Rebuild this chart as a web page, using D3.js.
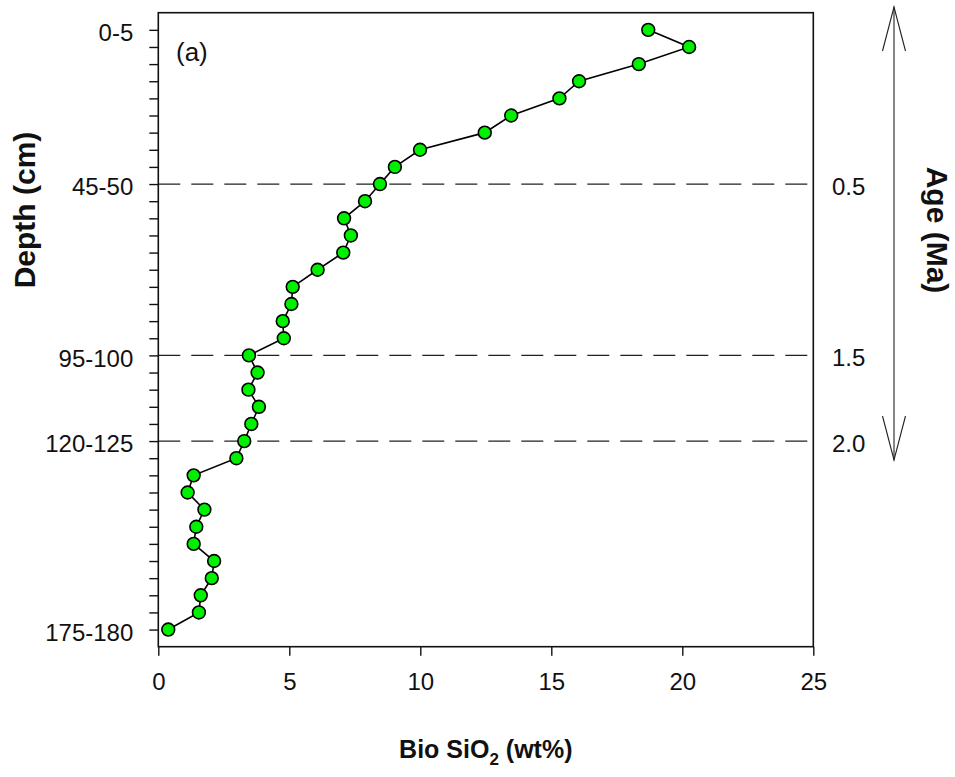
<!DOCTYPE html>
<html>
<head>
<meta charset="utf-8">
<script src="https://cdn.jsdelivr.net/npm/d3@7"></script>
<style>
  html, body { margin: 0; padding: 0; background: #fff; }
  svg { display: block; font-family: Arial, "Liberation Sans", sans-serif; }
</style>
</head>
<body>
<svg id="chart" width="955" height="777"></svg>
<script>
// Sample depth intervals (midpoint, cm) down the core
const sampleDepths = [2.5, 7.5, 12.5, 17.5, 22.5, 27.5, 32.5, 37.5, 42.5, 47.5,
  52.5, 57.5, 62.5, 67.5, 72.5, 77.5, 82.5, 87.5, 92.5, 97.5,
  102.5, 107.5, 112.5, 117.5, 122.5, 127.5, 132.5, 137.5, 142.5, 147.5,
  152.5, 157.5, 162.5, 167.5, 172.5, 177.5];

// Biogenic silica content (wt%) for each interval
const bioSiO2 = [18.70, 20.26, 18.34, 16.06, 15.31, 13.47, 12.46, 9.99, 9.03, 8.46,
  7.89, 7.09, 7.35, 7.06, 6.08, 5.13, 5.08, 4.75, 4.79, 3.46,
  3.79, 3.44, 3.84, 3.55, 3.28, 2.98, 1.35, 1.12, 1.76, 1.45,
  1.35, 2.13, 2.04, 1.62, 1.55, 0.38];

// Labelled depth intervals on the left axis
const depthTickDepths = [2.5, 47.5, 97.5, 122.5, 177.5];
const depthTickLabels = ["0-5", "45-50", "95-100", "120-125", "175-180"];

// Age horizons (Ma) marked by dashed lines
const ageDepths = [47.5, 97.5, 122.5];
const ageLabels = ["0.5", "1.5", "2.0"];

// Bottom axis ticks
const xTicks = [0, 5, 10, 15, 20, 25];

const svg = d3.select("#chart");
const plotL = 158.3, plotR = 813.3, plotT = 12.7, plotB = 646.7;

const x = d3.scaleLinear().domain([0, 25]).range([plotL, plotR]);
const y = d3.scaleLinear().domain([-2.5, 182.5]).range([plotT, plotB]);

const ink = "#111";

// Dashed age horizons
svg.append("g")
  .selectAll("line")
  .data(ageDepths)
  .join("line")
  .attr("x1", plotL).attr("x2", plotR)
  .attr("y1", d => y(d)).attr("y2", d => y(d))
  .attr("stroke", "#222")
  .attr("stroke-width", 1.3)
  .attr("stroke-dasharray", "22,11");

// Bottom axis
const xAxis = svg.append("g")
  .attr("transform", `translate(0,${plotB})`)
  .call(d3.axisBottom(x).tickValues(xTicks).tickSize(9).tickPadding(17).tickFormat(d3.format("d")));
xAxis.select(".domain").remove();
xAxis.selectAll(".tick line").attr("stroke", ink).attr("stroke-width", 1.4);
xAxis.selectAll("text").attr("font-size", 24).attr("fill", "#111")
  .attr("font-family", "Arial, 'Liberation Sans', sans-serif");

// Left axis: a tick at every sample interval, labels on selected ones
const labelFor = new Map(depthTickDepths.map((d, i) => [d, depthTickLabels[i]]));
const yAxis = svg.append("g")
  .attr("transform", `translate(${plotL},0)`)
  .call(d3.axisLeft(y).tickValues(sampleDepths).tickSize(9).tickPadding(16)
    .tickFormat(d => labelFor.get(d) || ""));
yAxis.select(".domain").remove();
yAxis.selectAll(".tick line").attr("stroke", ink).attr("stroke-width", 1.4);
yAxis.selectAll("text").attr("font-size", 24).attr("fill", "#111").attr("dy", "0.45em")
  .attr("font-family", "Arial, 'Liberation Sans', sans-serif");

// Plot frame
svg.append("rect")
  .attr("x", plotL).attr("y", plotT)
  .attr("width", plotR - plotL).attr("height", plotB - plotT)
  .attr("fill", "none").attr("stroke", ink).attr("stroke-width", 1.6);

// Age labels on the right
svg.append("g")
  .selectAll("text")
  .data(ageDepths)
  .join("text")
  .attr("x", 832)
  .attr("y", d => y(d))
  .attr("dy", "0.45em")
  .attr("font-size", 24)
  .attr("fill", "#111")
  .text((d, i) => ageLabels[i]);

// Profile line and sample markers
const pts = sampleDepths.map((d, i) => ({ depth: d, value: bioSiO2[i] }));
svg.append("path")
  .datum(pts)
  .attr("fill", "none")
  .attr("stroke", "#000")
  .attr("stroke-width", 1.6)
  .attr("d", d3.line().x(d => x(d.value)).y(d => y(d.depth)));

svg.append("g")
  .selectAll("circle")
  .data(pts)
  .join("circle")
  .attr("cx", d => x(d.value))
  .attr("cy", d => y(d.depth))
  .attr("r", 6.4)
  .attr("fill", "#00f000")
  .attr("stroke", "#000")
  .attr("stroke-width", 1.6);

// Panel tag
svg.append("text")
  .attr("x", 176).attr("y", 61)
  .attr("font-size", 26)
  .attr("fill", "#111")
  .text("(a)");

// Double-headed age arrow
const ax = 894, aTop = 7, aBot = 460, wing = 11.5, wingLen = 44;
const arrow = svg.append("g").attr("stroke", "#222").attr("stroke-width", 1.1).attr("fill", "none");
arrow.append("line").attr("x1", ax).attr("x2", ax).attr("y1", aTop).attr("y2", aBot);
arrow.append("path").attr("d", `M${ax - wing},${aTop + wingLen}L${ax},${aTop}L${ax + wing},${aTop + wingLen}`);
arrow.append("path").attr("d", `M${ax - wing},${aBot - wingLen}L${ax},${aBot}L${ax + wing},${aBot - wingLen}`);

// Axis titles
const xTitle = svg.append("text")
  .attr("x", (plotL + plotR) / 2).attr("y", 758)
  .attr("text-anchor", "middle")
  .attr("font-size", 25).attr("font-weight", "bold").attr("fill", "#111");
xTitle.append("tspan").text("Bio SiO");
xTitle.append("tspan").attr("font-size", 17).attr("dy", 7).text("2");
xTitle.append("tspan").attr("dy", -7).text(" (wt%)");

svg.append("text")
  .attr("transform", "translate(35,210) rotate(-90)")
  .attr("text-anchor", "middle")
  .attr("font-size", 30).attr("font-weight", "bold").attr("fill", "#111")
  .text("Depth (cm)");

svg.append("text")
  .attr("transform", "translate(927,230) rotate(90)")
  .attr("text-anchor", "middle")
  .attr("font-size", 30).attr("font-weight", "bold").attr("fill", "#111")
  .text("Age (Ma)");
</script>
</body>
</html>
